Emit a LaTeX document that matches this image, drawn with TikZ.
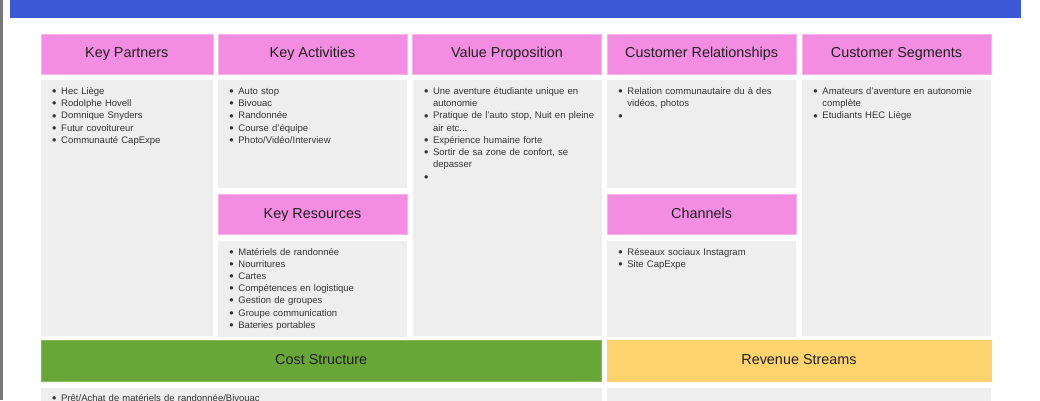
\documentclass[tikz,border=0pt]{standalone}
\usepackage{fontspec}
\setmainfont{Liberation Sans}
\usetikzlibrary{positioning}
\definecolor{barblue}{RGB}{59,89,215}
\definecolor{hdrpink}{RGB}{243,141,226}
\definecolor{hdrline}{RGB}{247,180,236}
\definecolor{bodygray}{RGB}{238,238,238}
\definecolor{costgreen}{RGB}{104,166,56}
\definecolor{revyellow}{RGB}{255,212,110}
\definecolor{edgegray}{RGB}{120,120,120}
\newcommand\blt{\par\noindent\hangindent=9pt\hangafter=1\strut\makebox[9pt][l]{\raisebox{-1.1pt}{\fontsize{12.5}{12}\selectfont\textbullet}}}
\tikzset{
    hdr/.style = {rectangle, fill=hdrpink, draw=hdrline, line width=0.6pt, anchor=north west, inner sep=0pt,
                  minimum height=40pt, text height=10.4pt, text depth=2.6pt, text=black!88,
                  font=\fontsize{14.4}{16}\selectfont},
    hdrg/.style = {hdr, fill=costgreen, draw=costgreen!80!white},
    hdry/.style = {hdr, fill=revyellow, draw=revyellow},
    body/.style = {rectangle, fill=bodygray, anchor=north west, inner sep=0pt},
    items/.style = {anchor=north west, inner sep=0pt, text width=176pt, align=left, text=black!80,
                    font=\fontsize{9.5}{12.2}\selectfont}
}

\begin{document}
\begin{tikzpicture}[x=1pt, y=-1pt]
  \clip (0,0) rectangle (1040,400);
  \fill[white] (0,0) rectangle (1040,400);
  \fill[edgegray] (0,0) rectangle (2.5,400);
  \fill[barblue] (9.5,0) rectangle (1021,17.7);

  % top row headers
  \node[hdr, minimum width=172pt] (kpH) at (40.5,33.5) {Key Partners};
  \node[hdr, minimum width=189pt] (kaH) at (217.7,33.5) {Key Activities};
  \node[hdr, minimum width=189pt] (vpH) at (412.3,33.5) {Value Proposition};
  \node[hdr, minimum width=189.3pt] (crH) at (606.7,33.5) {Customer Relationships};
  \node[hdr, minimum width=189pt] (csH) at (801.7,33.5) {Customer Segments};

  % top row bodies
  \node[body, minimum width=172pt, minimum height=256pt, below=5.5pt of kpH.south west, anchor=north west] (kpB) {};
  \node[body, minimum width=189pt, minimum height=107.7pt, below=5.5pt of kaH.south west, anchor=north west] (kaB) {};
  \node[body, minimum width=189pt, minimum height=256pt, below=5.5pt of vpH.south west, anchor=north west] (vpB) {};
  \node[body, minimum width=189.3pt, minimum height=107.7pt, below=5.5pt of crH.south west, anchor=north west] (crB) {};
  \node[body, minimum width=189pt, minimum height=256pt, below=5.5pt of csH.south west, anchor=north west] (csB) {};

  % middle headers and bodies
  \node[hdr, minimum width=189pt, minimum height=40.6pt, below=6pt of kaB.south west, anchor=north west] (krH) {Key Resources};
  \node[hdr, minimum width=189.3pt, minimum height=40.6pt, below=6pt of crB.south west, anchor=north west] (chH) {Channels};
  \node[body, minimum width=189pt, minimum height=96pt, below=5.7pt of krH.south west, anchor=north west] (krB) {};
  \node[body, minimum width=189.3pt, minimum height=96pt, below=5.7pt of chH.south west, anchor=north west] (chB) {};

  % bottom row
  \node[hdrg, minimum width=560.8pt, minimum height=40.7pt] (cstH) at (40.5,340) {Cost Structure};
  \node[hdry, minimum width=384pt, minimum height=40.7pt] (rvH) at (606.7,340) {Revenue Streams};
  \node[body, minimum width=560.8pt, minimum height=60pt, below=6pt of cstH.south west, anchor=north west] (cstB) {};
  \node[body, minimum width=384pt, minimum height=60pt, below=6pt of rvH.south west, anchor=north west] (rvB) {};

  % lists
  \node[items] (kpL) at ([shift={(11.5pt,-2.5pt)}]kpB.north west) {%
    \blt Hec Liège
    \blt Rodolphe Hovell
    \blt Domnique Snyders
    \blt Futur covoitureur
    \blt Communauté CapExpe};
  \node[items] (kaL) at ([shift={(11.5pt,-2.5pt)}]kaB.north west) {%
    \blt Auto stop
    \blt Bivouac
    \blt Randonnée
    \blt Course d’équipe
    \blt Photo/Vidéo/Interview};
  \node[items] (vpL) at ([shift={(11.5pt,-2.5pt)}]vpB.north west) {%
    \blt Une aventure étudiante unique en\newline autonomie
    \blt Pratique de l’auto stop, Nuit en pleine\newline air etc...
    \blt Expérience humaine forte
    \blt Sortir de sa zone de confort, se\newline depasser
    \blt};
  \node[items] (crL) at ([shift={(11.5pt,-2.5pt)}]crB.north west) {%
    \blt Relation communautaire du à des\newline vidéos, photos
    \blt};
  \node[items] (csL) at ([shift={(11.5pt,-2.5pt)}]csB.north west) {%
    \blt Amateurs d’aventure en autonomie\newline complète
    \blt Etudiants HEC Liège};
  \node[items] (krL) at ([shift={(11.5pt,-2pt)}]krB.north west) {%
    \blt Matériels de randonnée
    \blt Nourritures
    \blt Cartes
    \blt Compétences en logistique
    \blt Gestion de groupes
    \blt Groupe communication
    \blt Bateries portables};
  \node[items] (chL) at ([shift={(11.5pt,-2pt)}]chB.north west) {%
    \blt Réseaux sociaux Instagram
    \blt Site CapExpe};
  \node[items, text width=400pt] (cstL) at ([shift={(11.5pt,-2pt)}]cstB.north west) {%
    \blt Prêt/Achat de matériels de randonnée/Bivouac};
\end{tikzpicture}
\end{document}
